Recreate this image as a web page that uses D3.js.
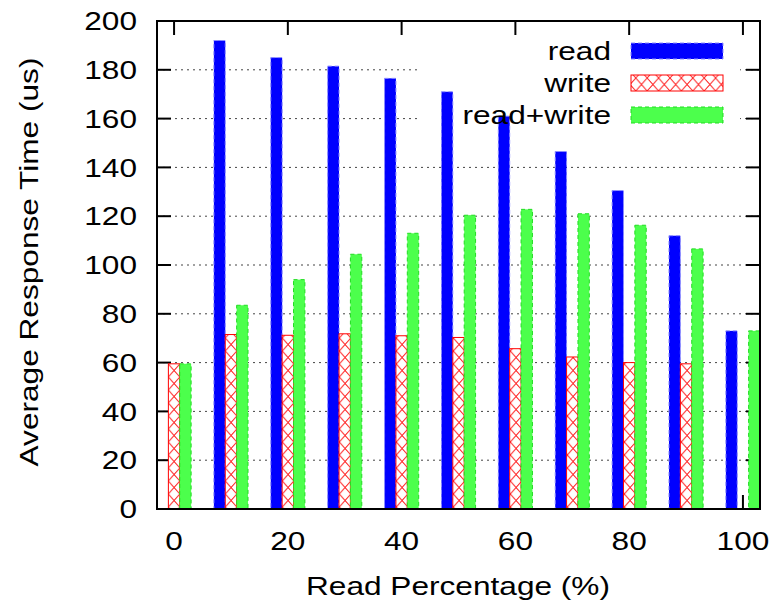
<!DOCTYPE html>
<html>
<head>
<meta charset="utf-8">
<script src="https://cdn.jsdelivr.net/npm/d3@7"></script>
<style>
  body { margin: 0; background: #fff; }
  text { font-family: "Liberation Sans", Arial, sans-serif; fill: #000; }
</style>
</head>
<body>
<svg id="chart" width="777" height="611"></svg>
<script>
// read percentage of each group
const readPct = [0, 10, 20, 30, 40, 50, 60, 70, 80, 90, 100];
// average response time (us)
const readTime  = [0, 192, 185, 181.5, 176.5, 171, 161, 146.5, 130.5, 112, 73];
const writeTime = [59.5, 71.5, 71.2, 71.8, 71, 70.3, 65.7, 62.3, 60, 59.5, 0];
const rwTime    = [59.5, 83.5, 94, 104.4, 113, 120.4, 122.8, 121, 116.3, 106.6, 73];
const seriesNames = ["read", "write", "read+write"];
const xTicks = [0, 20, 40, 60, 80, 100];
const yTicks = [0, 20, 40, 60, 80, 100, 120, 140, 160, 180, 200];

const svg = d3.select("#chart");
const pL = 157, pR = 760, pT = 21, pB = 509;

const x = d3.scaleLinear().domain([-3, 103]).range([pL, pR]);
const y = d3.scaleLinear().domain([0, 200]).range([pB, pT]);

// gnuplot text looks wide, stretch it a bit
const fs = 25.5, sx = 1.24;
function label(g, tx, ty, str, anchor, rot) {
  return g.append("text")
    .attr("transform", "translate(" + tx + "," + ty + ")" + (rot ? " rotate(-90)" : "") + " scale(" + sx + ",1)")
    .attr("dy", "0.36em").attr("text-anchor", anchor).attr("font-size", fs).text(str);
}

// crosshatch for write bars
const defs = svg.append("defs");
const pat = defs.append("pattern")
  .attr("id", "hatch").attr("patternUnits", "userSpaceOnUse")
  .attr("width", 11.4).attr("height", 13).attr("x", x(-1));
pat.append("rect").attr("width", 11.4).attr("height", 13).attr("fill", "#fff");
pat.append("path").attr("d", "M0,0L11.4,13M11.4,0L0,13")
  .attr("stroke", "#ff2020").attr("stroke-width", 1).attr("fill", "none");

// grid
svg.append("g").selectAll("line")
  .data(yTicks.filter(d => d > 0 && d < 200))
  .join("line")
  .attr("x1", pL).attr("x2", pR)
  .attr("y1", d => y(d)).attr("y2", d => y(d))
  .attr("stroke", "#444").attr("stroke-width", 1)
  .attr("stroke-dasharray", "2,4");

// key area hides grid
svg.append("rect").attr("x", 417).attr("y", pT).attr("width", 323).attr("height", 115)
  .attr("fill", "#fff");

// ticks (inside, mirrored)
const tk = svg.append("g").attr("stroke", "#000").attr("stroke-width", 2);
yTicks.forEach(d => {
  tk.append("line").attr("x1", pL).attr("x2", pL + 14).attr("y1", y(d)).attr("y2", y(d));
  tk.append("line").attr("x1", pR - 14).attr("x2", pR).attr("y1", y(d)).attr("y2", y(d));
});
xTicks.forEach(d => {
  tk.append("line").attr("x1", x(d)).attr("x2", x(d)).attr("y1", pT).attr("y2", pT + 14);
  tk.append("line").attr("x1", x(d)).attr("x2", x(d)).attr("y1", pB).attr("y2", pB - 14);
});

// bars
const bw = x(2) - x(0);
const series = [
  { vals: readTime,  off: -2, fill: "#0000ff", stroke: "#8c8cff", dash: "4,3" },
  { vals: writeTime, off: 0,  fill: "url(#hatch)", stroke: "#ff0000", dash: null },
  { vals: rwTime,    off: 2,  fill: "#4cff4c", stroke: "#22dd22", dash: "4,3" }
];
const plot = svg.append("g");
series.forEach(s => {
  plot.append("g").selectAll("rect")
    .data(readPct.map((p, i) => ({ p: p, v: s.vals[i] })).filter(d => d.v > 0))
    .join("rect")
    .attr("x", d => x(d.p + s.off - 1))
    .attr("width", d => Math.min(bw, pR - x(d.p + s.off - 1)))
    .attr("y", d => y(d.v))
    .attr("height", d => y(0) - y(d.v))
    .attr("fill", s.fill)
    .attr("stroke", s.stroke)
    .attr("stroke-width", 1)
    .attr("stroke-dasharray", s.dash);
});

// border
svg.append("rect").attr("x", pL).attr("y", pT)
  .attr("width", pR - pL).attr("height", pB - pT)
  .attr("fill", "none").attr("stroke", "#000").attr("stroke-width", 2);

// tick labels
const yl = svg.append("g");
yTicks.forEach(d => label(yl, 137, y(d), d, "end"));
const xl = svg.append("g");
xTicks.forEach(d => label(xl, x(d), 541, d, "middle"));

// axis titles
label(svg, 458, 586, "Read Percentage (%)", "middle");
label(svg, 29, 262, "Average Response Time (us)", "middle", true);

// key
const key = svg.append("g");
series.forEach((s, i) => {
  const cy = 51 + i * 32;
  label(key, 611, cy, seriesNames[i], "end");
  key.append("rect").attr("x", 631).attr("y", cy - 8).attr("width", 92).attr("height", 16)
    .attr("fill", s.fill).attr("stroke", s.stroke).attr("stroke-width", 1)
    .attr("stroke-dasharray", s.dash);
});
</script>
</body>
</html>
